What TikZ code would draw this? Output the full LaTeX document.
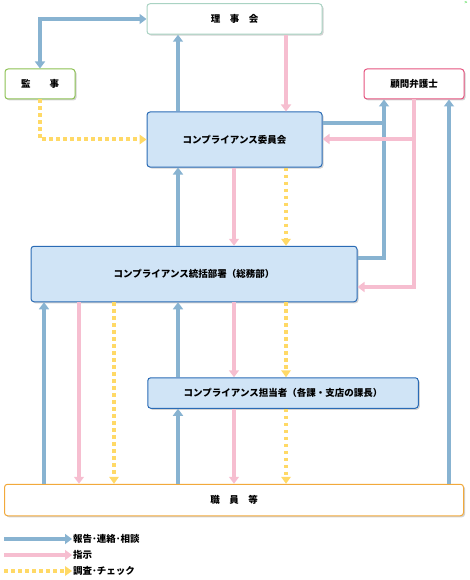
\documentclass[tikz,border=0pt]{standalone}
\usepackage{fontspec}
\setmainfont{Noto Sans CJK JP}
\usetikzlibrary{arrows.meta,shadows}

\definecolor{repblue}{HTML}{88B3D1}
\definecolor{inspink}{HTML}{F6BED0}
\definecolor{chkyel}{HTML}{FFD966}
\definecolor{boxfill}{HTML}{D0E4F6}
\definecolor{boxline}{HTML}{2A6BB5}
\definecolor{boardline}{HTML}{A9D3C3}
\definecolor{auditline}{HTML}{8CC152}
\definecolor{lawline}{HTML}{E5537F}
\definecolor{staffline}{HTML}{F2A93B}

\tikzset{
  org/.style={rectangle,rounded corners=3pt,draw,line width=1pt,fill=white,
    drop shadow={shadow xshift=1.5pt,shadow yshift=-1.5pt,opacity=0.35},
    font=\fontsize{9.5pt}{11pt}\selectfont\bfseries,inner sep=0pt},
  cbox/.style={org,draw=boxline,fill=boxfill},
  tip/.style={-{Triangle[width=10pt,length=7pt]}},
  rep/.style={tip,draw=repblue,line width=4pt},
  repline/.style={draw=repblue,line width=4pt},
  ins/.style={tip,draw=inspink,line width=4pt},
  chk/.style={draw=chkyel,line width=4pt,dash pattern=on 3.5pt off 3.5pt,
    -{Triangle[width=10pt,length=7pt,fill=chkyel,line width=0pt]}},
  legtext/.style={right,font=\fontsize{9.5pt}{11pt}\selectfont\bfseries,inner sep=1pt}
}

\begin{document}
\begin{tikzpicture}[x=1pt,y=-1pt]
\useasboundingbox (0,0) rectangle (470,580);
\node[org,draw=boardline,minimum width=175pt,minimum height=30.5pt] (board) at (234.5,19) {理\hspace{1em}事\hspace{1em}会};
\node[org,draw=auditline,minimum width=70pt,minimum height=30pt] (audit) at (40,84) {監\hspace{2em}事};
\node[org,draw=lawline,minimum width=100pt,minimum height=30pt] (lawyer) at (414,84) {顧問弁護士};
\node[cbox,minimum width=175pt,minimum height=55pt] (comm) at (234.5,139.5) {コンプライアンス委員会};
\node[cbox,minimum width=326pt,minimum height=55.5pt] (dept) at (194,274) {コンプライアンス統括部署（総務部）};
\node[cbox,minimum width=270.5pt,minimum height=30.5pt] (mgr) at (283,393) {コンプライアンス担当者（各課・支店の課長）};
\node[org,draw=staffline,minimum width=459pt,minimum height=31.5pt] (staff) at (234,500) {職\hspace{1em}員\hspace{1em}等};
\node[text=green!80!black,font=\tiny,inner sep=0pt] (mark) at (466,3) {>};

% board, audit, committee
\draw[rep,{Triangle[width=10pt,length=7pt]}-{Triangle[width=10pt,length=7pt]}] (audit.north) |- (board.west);
\draw[chk] (audit.south) |- (comm.west);
\draw[rep] (comm.north -| 178,0) -- (board.south -| 178,0);
\draw[ins] (board.south -| 286,0) -- (comm.north -| 286,0);

% lawyer
\draw[repline] (dept.east |- 0,258) -| (384,123);
\draw[rep] (comm.east |- 0,123) -| (lawyer.south -| 384,0);
\draw[ins] (lawyer.south) |- (dept.east |- 0,287);
\draw[ins] (414,139) -- (comm.east |- 0,139);
\draw[rep] (staff.north -| 449,0) -- (lawyer.south -| 449,0);

% committee -> dept -> mgr -> staff
\draw[rep] (dept.north -| 178,0) -- (comm.south -| 178,0);
\draw[ins] (comm.south -| 234,0) -- (dept.north -| 234,0);
\draw[chk] (comm.south -| 286,0) -- (dept.north -| 286,0);
\draw[rep] (mgr.north -| 178,0) -- (dept.south -| 178,0);
\draw[ins] (dept.south -| 234,0) -- (mgr.north -| 234,0);
\draw[chk] (dept.south -| 286,0) -- (mgr.north -| 286,0);
\draw[rep] (staff.north -| 178,0) -- (mgr.south -| 178,0);
\draw[ins] (mgr.south -| 234,0) -- (staff.north -| 234,0);
\draw[chk] (mgr.south -| 286,0) -- (staff.north -| 286,0);
\draw[rep] (staff.north -| 44,0) -- (dept.south -| 44,0);
\draw[ins] (dept.south -| 79,0) -- (staff.north -| 79,0);
\draw[chk] (dept.south -| 114,0) -- (staff.north -| 114,0);

% legend
\coordinate (l1) at (4,539); \coordinate (l2) at (4,555); \coordinate (l3) at (4,571);
\node[legtext] (t1) at (72,539) {報告･連絡･相談};
\node[legtext] (t2) at (72,555) {指示};
\node[legtext] (t3) at (72,571) {調査･チェック};
\draw[rep] (l1) -- (t1.west);
\draw[ins] (l2) -- (t2.west);
\draw[chk] (l3) -- (t3.west);
\end{tikzpicture}
\end{document}
